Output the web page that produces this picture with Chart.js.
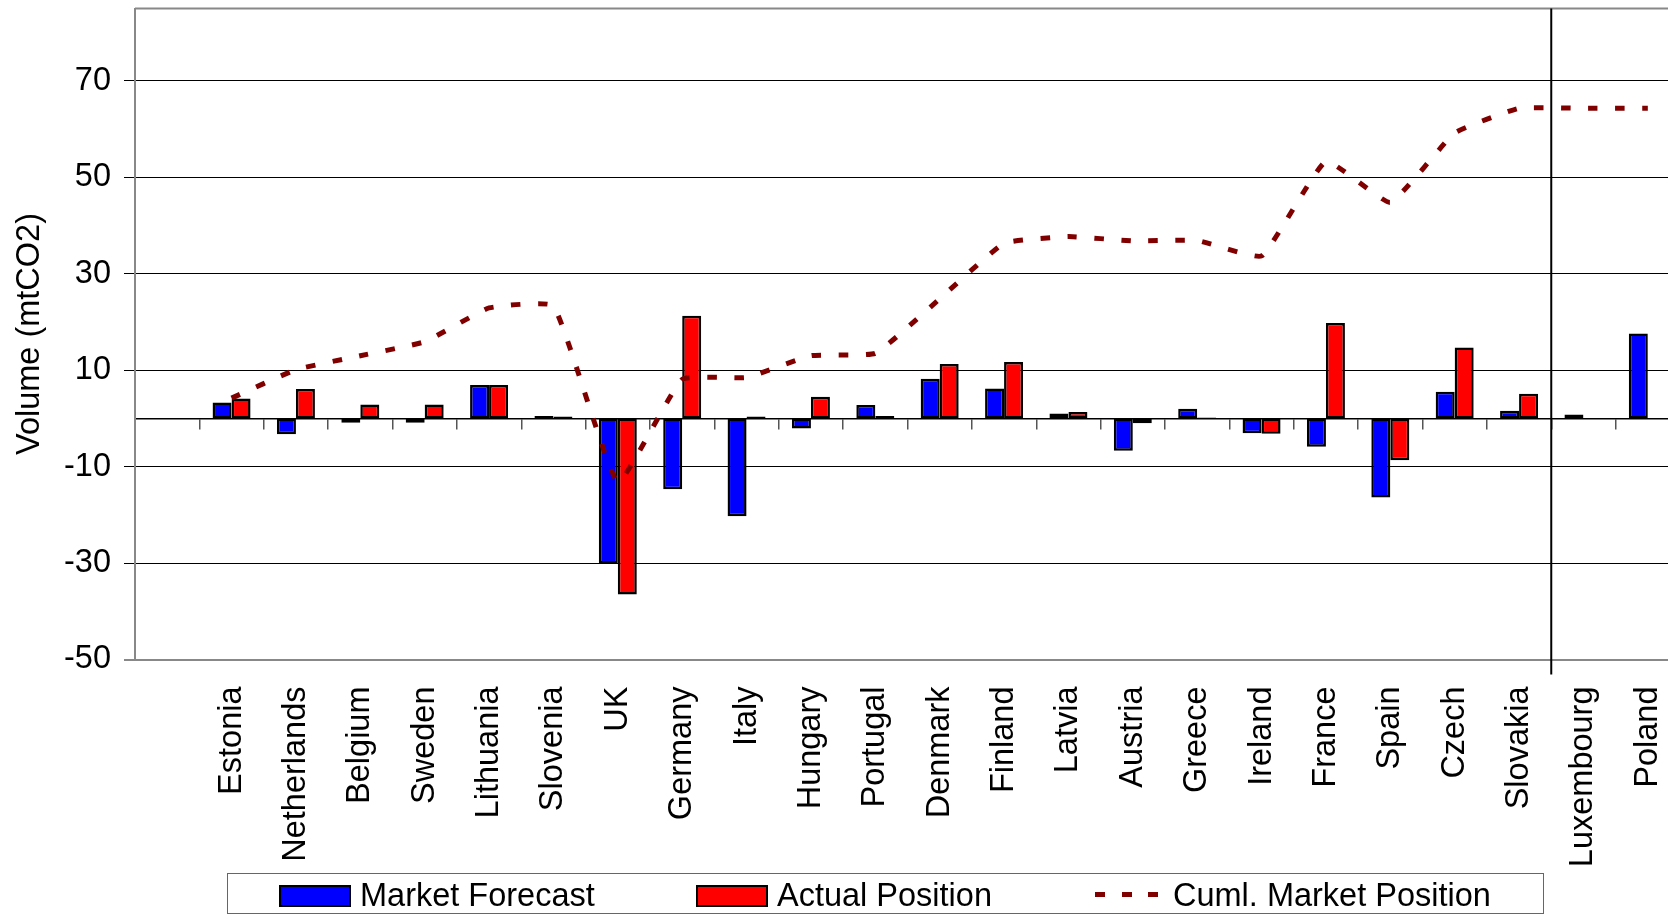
<!DOCTYPE html>
<html>
<head>
<meta charset="utf-8">
<title>Market Position</title>
<script src="https://cdn.jsdelivr.net/npm/chart.js@4.4.1/dist/chart.umd.min.js"></script>
<style>
  html, body { margin: 0; padding: 0; background: #fff; overflow: hidden; }
  #wrap { position: relative; width: 1668px; height: 914px; overflow: hidden; font-family: "Liberation Sans", Arial, sans-serif; }
  #chart { position: absolute; left: 0; top: 0; }
  .legend-box { position: absolute; left: 227px; top: 873px; width: 1317px; height: 41px; border: 1.5px solid #666; box-sizing: border-box; }
  .swatch { position: absolute; top: 885px; width: 72px; height: 22px; border: 2px solid #000; box-sizing: border-box; }
  .dash { position: absolute; left: 1095px; top: 891.5px; width: 64px; height: 5.5px;
          background: repeating-linear-gradient(to right, #800000 0 10px, transparent 10px 26.7px); }
  .label { position: absolute; top: 879px; font-size: 32.5px; line-height: 1; color: #000; white-space: nowrap; }
</style>
</head>
<body>
<div id="wrap">
  <canvas id="chart" width="1700" height="914"></canvas>
  <div class="legend-box"></div>
  <div class="swatch" style="left:279px;background:#0000ff"></div>
  <div class="label" style="left:360px">Market Forecast</div>
  <div class="swatch" style="left:696px;background:#ff0000"></div>
  <div class="label" style="left:777px">Actual Position</div>
  <div class="dash"></div>
  <div class="label" style="left:1173px">Cuml. Market Position</div>
</div>
<script>
// first slot is left empty in the original chart
const countries = ['', 'Estonia', 'Netherlands', 'Belgium', 'Sweden', 'Lithuania', 'Slovenia', 'UK', 'Germany',
  'Italy', 'Hungary', 'Portugal', 'Denmark', 'Finland', 'Latvia', 'Austria', 'Greece', 'Ireland', 'France',
  'Spain', 'Czech', 'Slovakia', 'Luxembourg', 'Poland'];

const marketForecast = [null, 3.3, -3.3, -0.9, -0.9, 6.9, 0.5, -30.1, -14.7, -20.3, -2.1, 2.8, 8.2, 6.2,
  1.0, -6.7, 2.0, -3.1, -5.9, -16.4, 5.5, 1.6, 0.8, 17.6];

const actualPosition = [null, 4.1, 6.1, 2.9, 2.9, 6.9, 0.4, -36.5, 21.3, 0.4, 4.5, 0.5, 11.3, 11.7,
  1.3, -1.0, 0.2, -3.2, 19.8, -8.7, 14.7, 5.1, null, null];

const cumlPosition = [null, 4.2, 10.1, 13.0, 15.9, 22.9, 23.3, -13.2, 8.1, 8.5, 13.0, 13.5, 24.8, 36.3,
  37.7, 36.8, 36.9, 33.7, 53.3, 44.8, 59.2, 64.3, 64.3, 64.3];

const yTicks = [70, 50, 30, 10, -10, -30, -50];
const dividerAfter = 'Slovakia';

const FONT = '"Liberation Sans", Arial, sans-serif';

// plot frame top edge + the vertical divider before Luxembourg
const framePlugin = {
  id: 'frame',
  afterDraw(chart) {
    const { ctx, chartArea, scales } = chart;
    ctx.save();
    ctx.strokeStyle = '#888';
    ctx.lineWidth = 2;
    ctx.beginPath();
    ctx.moveTo(chartArea.left, chartArea.top);
    ctx.lineTo(chartArea.right, chartArea.top);
    ctx.stroke();

    const i = countries.indexOf(dividerAfter);
    const xPos = (scales.x.getPixelForValue(i) + scales.x.getPixelForValue(i + 1)) / 2;
    ctx.strokeStyle = '#000';
    ctx.lineWidth = 2;
    ctx.beginPath();
    ctx.moveTo(xPos, chartArea.top);
    ctx.lineTo(xPos, chartArea.bottom + 15);
    ctx.stroke();
    ctx.restore();
  }
};

new Chart(document.getElementById('chart'), {
  type: 'bar',
  data: {
    labels: countries,
    datasets: [
      {
        label: 'Market Forecast',
        data: marketForecast,
        backgroundColor: '#0000ff',
        borderColor: '#000',
        borderWidth: 2.5,
        borderSkipped: false,
        categoryPercentage: 0.59,
        barPercentage: 1.0,
        order: 1
      },
      {
        label: 'Actual Position',
        data: actualPosition,
        backgroundColor: '#ff0000',
        borderColor: '#000',
        borderWidth: 2.5,
        borderSkipped: false,
        categoryPercentage: 0.59,
        barPercentage: 1.0,
        order: 1
      },
      {
        type: 'line',
        label: 'Cuml. Market Position',
        data: cumlPosition,
        borderColor: '#800000',
        borderWidth: 5,
        borderDash: [9.5, 17.5],
        borderCapStyle: 'butt',
        pointRadius: 0,
        tension: 0.12,
        fill: false,
        order: 0
      }
    ]
  },
  options: {
    responsive: false,
    animation: false,
    devicePixelRatio: 1,
    layout: { padding: { left: 0, right: 20, top: 8.5, bottom: 0 } },
    plugins: {
      legend: { display: false },
      tooltip: { enabled: false }
    },
    scales: {
      x: {
        type: 'category',
        position: 'bottom',
        offset: true,
        grid: { display: false },
        border: { display: false },
        ticks: {
          autoSkip: false,
          minRotation: 90,
          maxRotation: 90,
          padding: 19,
          color: '#000',
          font: { family: FONT, size: 32.5 }
        },
        afterFit: (scale) => {
          scale.height = 254.5;
          scale.paddingLeft = 0;
          scale.paddingRight = 0;
        }
      },
      x0: {
        type: 'category',
        position: { y: 0 },
        offset: true,
        grid: { offset: true, drawOnChartArea: false, drawTicks: true, tickLength: 10, color: '#555', lineWidth: 1.5 },
        border: { display: true, color: '#000', width: 1.5 },
        ticks: { display: false }
      },
      y: {
        min: -50,
        max: 85,
        afterBuildTicks: (scale) => { scale.ticks = [...yTicks].reverse().map(v => ({ value: v })); },
        grid: {
          color: (c) => (c.tick && c.tick.value === -50 ? '#888' : '#000'),
          lineWidth: (c) => (c.tick && c.tick.value === -50 ? 2 : 1),
          tickLength: 11
        },
        border: { color: '#888', width: 2 },
        ticks: {
          padding: 13,
          color: '#000',
          font: { family: FONT, size: 32.5 }
        },
        title: {
          display: true,
          text: 'Volume (mtCO2)',
          color: '#000',
          font: { family: FONT, size: 32.5, lineHeight: 1.2 },
          padding: { top: 11, bottom: 0 }
        },
        afterFit: (scale) => {
          scale.width = 135;
          scale.paddingTop = 0;
          scale.paddingBottom = 0;
        }
      }
    }
  },
  plugins: [framePlugin]
});
</script>
</body>
</html>
